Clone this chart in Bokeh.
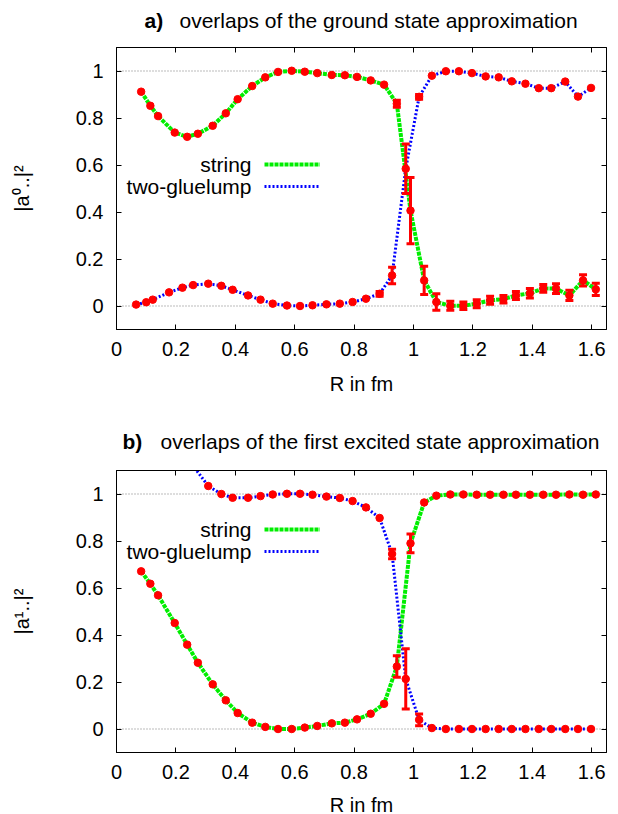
from bokeh.plotting import figure
from bokeh.models import (Range1d, LinearAxis, FixedTicker, Span, Label, Legend, LegendItem,
                          CustomLabelingPolicy)
from bokeh.layouts import column
from bokeh.embed import file_html
from bokeh.resources import INLINE

# ---------------- data ----------------
R_string = [0.083, 0.114, 0.140, 0.196, 0.238, 0.274, 0.324, 0.368, 0.408, 0.457,
            0.501, 0.544, 0.590, 0.634, 0.676, 0.725, 0.769, 0.810, 0.856, 0.901,
            0.944, 0.990, 1.036, 1.077, 1.124, 1.168, 1.213, 1.258, 1.303, 1.345,
            1.392, 1.437, 1.480, 1.525, 1.571, 1.614]

# panel a) ground state
string_a = [0.912, 0.852, 0.808, 0.738, 0.720, 0.733, 0.767, 0.820, 0.880, 0.936,
            0.973, 0.996, 1.001, 0.997, 0.991, 0.983, 0.982, 0.975, 0.960, 0.942,
            0.861, 0.406, 0.109, 0.017, 0.001, 0.001, 0.010, 0.024, 0.029, 0.045,
            0.054, 0.075, 0.074, 0.045, 0.109, 0.071]
string_a_err = [0, 0, 0, 0, 0, 0, 0, 0, 0, 0,
                0, 0, 0, 0, 0, 0, 0, 0, 0, 0,
                0.015, 0.141, 0.060, 0.035, 0.019, 0.016, 0.017, 0.017, 0.016, 0.017,
                0.020, 0.017, 0.021, 0.022, 0.024, 0.026]

R_glue_a = [0.066, 0.100, 0.122, 0.177, 0.222, 0.258, 0.309, 0.353, 0.391, 0.443,
            0.485, 0.526, 0.574, 0.618, 0.660, 0.707, 0.752, 0.795, 0.840, 0.886,
            0.928, 0.974, 1.019, 1.062, 1.109, 1.153, 1.197, 1.243, 1.287, 1.331,
            1.377, 1.422, 1.464, 1.511, 1.554, 1.598]
glue_a = [0.006, 0.016, 0.027, 0.058, 0.078, 0.089, 0.095, 0.086, 0.069, 0.045,
          0.027, 0.010, 0.002, 0.000, 0.003, 0.007, 0.010, 0.017, 0.031, 0.052,
          0.130, 0.584, 0.890, 0.980, 0.999, 0.999, 0.991, 0.977, 0.973, 0.956,
          0.946, 0.927, 0.927, 0.955, 0.891, 0.928]
glue_a_err = [0, 0, 0, 0, 0, 0, 0, 0, 0, 0,
              0, 0, 0, 0, 0, 0, 0, 0, 0, 0.010,
              0.035, 0.105, 0.010, 0, 0, 0, 0, 0, 0, 0,
              0, 0, 0, 0, 0, 0]

# panel b) first excited state
string_b = [0.671, 0.618, 0.569, 0.451, 0.359, 0.282, 0.190, 0.122, 0.068, 0.027,
            0.009, 0.000, 0.000, 0.006, 0.013, 0.024, 0.027, 0.041, 0.065, 0.107,
            0.266, 0.790, 0.964, 0.993, 0.998, 0.998, 0.997, 0.997, 0.997, 0.997,
            0.997, 0.997, 0.997, 0.998, 0.997, 0.998]
string_b_err = [0, 0, 0, 0, 0, 0, 0, 0, 0, 0,
                0, 0, 0, 0, 0, 0, 0, 0, 0, 0,
                0.046, 0.040, 0, 0, 0, 0, 0, 0, 0, 0,
                0, 0, 0, 0, 0, 0]

R_glue_b = [0.222, 0.258, 0.309, 0.353, 0.391, 0.443, 0.485, 0.526, 0.574, 0.618,
            0.660, 0.707, 0.752, 0.795, 0.840, 0.886, 0.928, 0.974, 1.019, 1.062,
            1.109, 1.153, 1.197, 1.243, 1.287, 1.331, 1.377, 1.422, 1.464, 1.511,
            1.554, 1.598]
glue_b = [1.200, 1.120, 1.034, 1.000, 0.984, 0.984, 0.991, 0.998, 1.001, 1.001,
          0.997, 0.989, 0.983, 0.970, 0.943, 0.898, 0.745, 0.213, 0.039, 0.004,
          0.000, 0.000, 0.000, 0.000, 0.000, 0.000, 0.000, 0.000, 0.000, 0.000,
          0.000, 0.000]
glue_b_err = [0, 0, 0, 0, 0, 0, 0, 0, 0, 0,
              0, 0, 0, 0, 0, 0, 0.020, 0.128, 0.025, 0,
              0, 0, 0, 0, 0, 0, 0, 0, 0, 0,
              0, 0]

x_ticks = [0, 0.2, 0.4, 0.6, 0.8, 1, 1.2, 1.4, 1.6]
x_tick_labels = ["0", "0.2", "0.4", "0.6", "0.8", "1", "1.2", "1.4", "1.6"]
y_ticks = [0, 0.2, 0.4, 0.6, 0.8, 1]
y_tick_labels = ["0", "0.2", "0.4", "0.6", "0.8", "1"]

FONT = "Liberation Sans"
GREEN = "#00ee00"
BLUE = "#0000ff"
RED = "#ff0000"

LEFT = 116      # left border (px)
FW, FH = 490, 282
RIGHT = 3


def style_axis(ax, ticks, labels, show_labels):
    ax.ticker = FixedTicker(ticks=ticks)
    ax.major_tick_in = 5
    ax.major_tick_out = 0
    ax.minor_tick_line_color = None
    ax.axis_line_color = "black"
    ax.major_tick_line_color = "black"
    ax.major_label_text_font = FONT
    ax.major_label_text_color = "black"
    if show_labels:
        ax.major_label_overrides = dict(zip(ticks, labels))
        ax.major_label_text_font_size = "20px"
    else:
        ax.major_label_policy = CustomLabelingPolicy(code="return new Set()")
        ax.major_label_text_font_size = "0px"
        ax.major_label_standoff = 0


def err_bars(p, R, vals, errs):
    xs = [r for r, e in zip(R, errs) if e > 0]
    lo = [v - e for v, e in zip(vals, errs) if e > 0]
    hi = [v + e for v, e in zip(vals, errs) if e > 0]
    p.segment(x0=xs, y0=lo, x1=xs, y1=hi, line_color=RED, line_width=3)
    p.scatter(x=xs, y=lo, marker="dash", size=8, line_color=RED, line_width=3)
    p.scatter(x=xs, y=hi, marker="dash", size=8, line_color=RED, line_width=3)


def header(tag, tag_x, title, title_x, height, text_y):
    # x positions are measured from the left edge of the plot frame below
    h = figure(frame_width=FW, frame_height=height, output_backend="svg",
               toolbar_location=None, x_axis_location=None, y_axis_location=None,
               x_range=Range1d(0, 1), y_range=Range1d(0, 1),
               min_border_left=LEFT, min_border_right=RIGHT,
               min_border_top=0, min_border_bottom=0,
               outline_line_color=None, background_fill_color="white",
               border_fill_color="white")
    h.grid.visible = False
    h.add_layout(Label(x=tag_x, y=text_y, x_units="screen", y_units="screen",
                       text=tag, text_baseline="middle", text_font=FONT,
                       text_font_size="21px", text_font_style="bold", text_color="black"))
    h.add_layout(Label(x=title_x, y=text_y, x_units="screen", y_units="screen",
                       text=title, text_baseline="middle", text_font=FONT,
                       text_font_size="21px", text_color="black"))
    return h


def panel(ylabel, s_vals, s_err, Rg, g_vals, g_err, border_top, border_bottom,
          legend_top, xlabel_standoff):
    p = figure(frame_width=FW, frame_height=FH, output_backend="svg", toolbar_location=None,
               x_range=Range1d(0, 1.65), y_range=Range1d(-0.1, 1.1),
               min_border_left=LEFT, min_border_right=RIGHT,
               min_border_top=border_top, min_border_bottom=border_bottom,
               background_fill_color="white", border_fill_color="white")
    p.outline_line_color = "black"
    p.outline_line_width = 1
    p.grid.visible = False

    p.add_layout(Span(location=0, dimension="width", line_color="#777777",
                      line_width=1, line_dash="1 2", level="underlay"))
    p.add_layout(Span(location=1, dimension="width", line_color="#777777",
                      line_width=1, line_dash="1 2", level="underlay"))

    rs = p.line(R_string, s_vals, line_color=GREEN, line_width=4, line_dash="4 1")
    rg = p.line(Rg, g_vals, line_color=BLUE, line_width=3, line_dash="2 2")

    err_bars(p, R_string, s_vals, s_err)
    err_bars(p, Rg, g_vals, g_err)
    p.scatter(R_string, s_vals, marker="circle", size=7.5, fill_color=RED, line_color=RED)
    p.scatter(Rg, g_vals, marker="circle", size=7.5, fill_color=RED, line_color=RED)

    xa = p.xaxis[0]
    style_axis(xa, x_ticks, x_tick_labels, True)
    xa.major_label_standoff = 12
    xa.axis_label = "R in fm"
    xa.axis_label_text_font = FONT
    xa.axis_label_text_font_size = "20px"
    xa.axis_label_text_font_style = "normal"
    xa.axis_label_text_color = "black"
    xa.axis_label_standoff = xlabel_standoff

    ya = p.yaxis[0]
    style_axis(ya, y_ticks, y_tick_labels, True)
    ya.major_label_standoff = 13
    ya.axis_label = ylabel
    ya.axis_label_text_font = FONT
    ya.axis_label_text_font_size = "20px"
    ya.axis_label_text_font_style = "normal"
    ya.axis_label_text_color = "black"
    ya.axis_label_standoff = 40

    top = LinearAxis()
    style_axis(top, x_ticks, x_tick_labels, False)
    p.add_layout(top, "above")
    right = LinearAxis()
    style_axis(right, y_ticks, y_tick_labels, False)
    p.add_layout(right, "right")

    leg_bottom = FH - (legend_top + 42)
    legend = Legend(items=[LegendItem(label=" ", renderers=[rs]),
                           LegendItem(label=" ", renderers=[rg])],
                    location=(148, leg_bottom), glyph_width=56, glyph_height=20,
                    label_height=20, label_width=0, label_standoff=0, padding=0,
                    spacing=2, margin=0, border_line_alpha=0, background_fill_alpha=0,
                    label_text_font_size="21px")
    p.add_layout(legend, "center")
    p.add_layout(Label(x=135, y=FH - legend_top - 10, x_units="screen", y_units="screen",
                       text="string", text_align="right", text_baseline="middle",
                       text_font=FONT, text_font_size="21px", text_color="black"))
    p.add_layout(Label(x=135, y=FH - legend_top - 32, x_units="screen", y_units="screen",
                       text="two-gluelump", text_align="right", text_baseline="middle",
                       text_font=FONT, text_font_size="21px", text_color="black"))
    return p


ha = header("a)", 28, "overlaps of the ground state approximation", 63, 32, 12)
pa = panel("|a⁰..|²", string_a, string_a_err, R_glue_a, glue_a, glue_a_err,
           15, 96, 107, 14)
hb = header("b)", 6, "overlaps of the first excited state approximation", 44, 30, 14)
pb = panel("|a¹..|²", string_b, string_b_err, R_glue_b, glue_b, glue_b_err,
           15, 60, 49, 12)

layout = column(ha, pa, hb, pb, spacing=0)
open("out.html", "w").write(file_html(layout, INLINE))
